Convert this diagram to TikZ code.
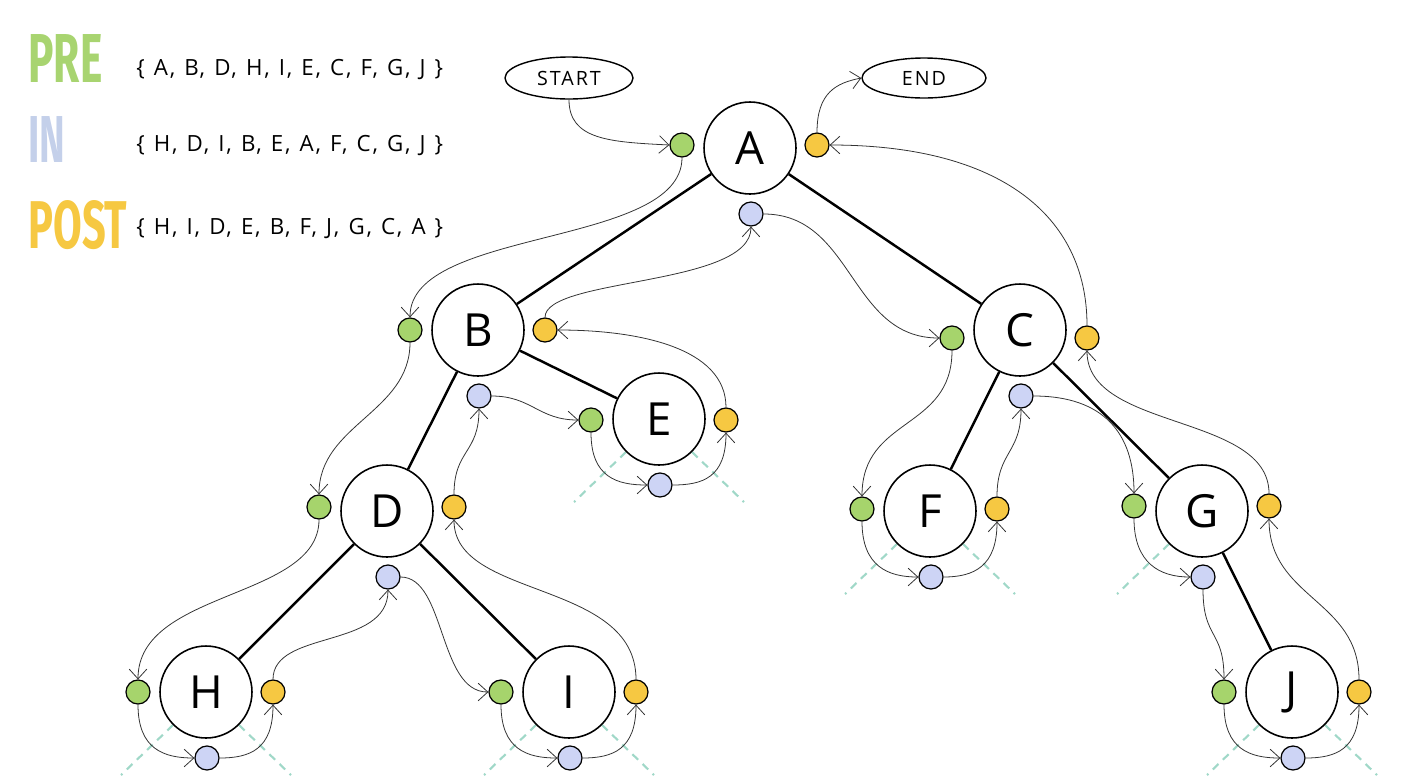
\documentclass[tikz,border=0pt]{standalone}
\usepackage{fontspec}
\setmainfont{Open Sans}
\newfontfamily\headfont{Fira Sans}
\newfontfamily\spacedfont[LetterSpace=10]{Open Sans}
\newfontfamily\setfont[LetterSpace=8,WordSpace=1.2]{Open Sans}
\usetikzlibrary{arrows.meta,shapes.geometric}
\definecolor{gfill}{RGB}{166,212,108}
\definecolor{bfill}{RGB}{205,212,245}
\definecolor{yfill}{RGB}{246,200,66}
\definecolor{precol}{RGB}{168,212,112}
\definecolor{incol}{RGB}{196,208,234}
\definecolor{postcol}{RGB}{246,200,66}
\definecolor{nullcol}{RGB}{160,216,200}
\tikzset{
  tnode/.style={circle,draw=black,line width=0.9pt,fill=white,minimum size=1.84cm,inner sep=0pt,font=\fontsize{26}{28}\selectfont},
  dot/.style={circle,draw=black,line width=0.7pt,minimum size=0.48cm,inner sep=0pt},
  gdot/.style={dot,fill=gfill},
  bdot/.style={dot,fill=bfill},
  ydot/.style={dot,fill=yfill},
  edge/.style={line width=1.4pt,draw=black},
  conn/.style={draw=black!80,line width=0.45pt,-{Straight Barb[length=5.5pt,width=10pt]}},
  nulls/.style={draw=nullcol,line width=1.2pt,dash pattern=on 4.5pt off 3.5pt},
  term/.style={ellipse,draw=black,line width=0.8pt,fill=white,inner sep=0pt,font=\spacedfont\fontsize{11.2}{13}\selectfont},
  settext/.style={anchor=west,inner sep=0pt,font=\setfont\fontsize{12.7}{15}\selectfont},
  head/.style={anchor=south west,inner sep=0pt}
}
\begin{document}
\begin{tikzpicture}[x=0.02cm,y=-0.02cm]
\useasboundingbox (0,0) rectangle (1402,778);
% headings
\node[head,text=precol] (pre) at (28,83) {\resizebox{1.48cm}{0.96cm}{\headfont\bfseries PRE}};
\node[head,text=incol] (in) at (28,163) {\resizebox{0.74cm}{0.92cm}{\headfont\bfseries IN}};
\node[head,text=postcol] (post) at (28,250) {\resizebox{1.98cm}{0.96cm}{\headfont\bfseries POST}};
\node[settext] (preset) at (136,70) {\{ A, B, D, H, I, E, C, F, G, J \}};
\node[settext] (inset) at (136,146) {\{ H, D, I, B, E, A, F, C, G, J \}};
\node[settext] (postset) at (136,229) {\{ H, I, D, E, B, F, J, G, C, A \}};
% terminals
\node[term,minimum width=2.56cm,minimum height=0.84cm] (START) at (569,78) {START};
\node[term,minimum width=2.48cm,minimum height=0.80cm] (END) at (924,78) {END};
% null-child dashed lines
\foreach \n/\x/\y/\l/\r in {E/659/419/1/1,F/930/511/1/1,G/1202/511/1/0,H/206/692/1/1,I/569/692/1/1,J/1292/692/1/1}{
  \ifnum\l=1 \draw[nulls] (\x-33,\y+33) -- ++(-52,50); \fi
  \ifnum\r=1 \draw[nulls] (\x+33,\y+33) -- ++(52,50); \fi
}
% tree nodes
\node[tnode] (A) at (750,148) {A};
\node[tnode] (B) at (478,330) {B};
\node[tnode] (C) at (1020,330) {C};
\node[tnode] (D) at (387,511) {D};
\node[tnode] (E) at (659,419) {E};
\node[tnode] (F) at (930,511) {F};
\node[tnode] (G) at (1202,511) {G};
\node[tnode] (H) at (206,692) {H};
\node[tnode] (I) at (569,692) {I};
\node[tnode] (J) at (1292,692) {J};
% tree edges
\draw[edge] (A) -- (B);
\draw[edge] (A) -- (C);
\draw[edge] (B) -- (D);
\draw[edge] (B) -- (E);
\draw[edge] (C) -- (F);
\draw[edge] (C) -- (G);
\draw[edge] (D) -- (H);
\draw[edge] (D) -- (I);
\draw[edge] (G) -- (J);
% dots
\foreach \n/\x/\y/\dy in {A/750/148/-3,B/478/330/0,C/1020/330/8,D/387/511/-4,E/659/419/1,F/930/511/-2,G/1202/511/-5,H/206/692/0,I/569/692/0,J/1292/692/0}{
  \node[gdot] (\n g) at (\x-68,\y+\dy) {};
  \node[ydot] (\n y) at (\x+67,\y+\dy) {};
  \node[bdot] (\n b) at (\x+1,\y+66) {};
}
% Euler tour connectors
\draw[conn] (START.south) .. controls +(0,40) and +(-60,-3) .. (Ag.west);
\draw[conn] (Ag.south) .. controls +(0,90) and +(0,-90) .. (Bg.north);
\draw[conn] (Bg.south) .. controls +(0,70) and +(0,-70) .. (Dg.north);
\draw[conn] (Dg.south) .. controls +(0,80) and +(0,-90) .. (Hg.north);
\draw[conn] (Hg.south) .. controls +(0,45) and +(-30,0) .. (Hb.west);
\draw[conn] (Hb.east) .. controls +(30,0) and +(0,45) .. (Hy.south);
\draw[conn] (Hy.north) .. controls +(0,-50) and +(0,60) .. (Db.south);
\draw[conn] (Db.east) .. controls +(45,0) and +(-50,0) .. (Ig.west);
\draw[conn] (Ig.south) .. controls +(0,45) and +(-30,0) .. (Ib.west);
\draw[conn] (Ib.east) .. controls +(30,0) and +(0,45) .. (Iy.south);
\draw[conn] (Iy.north) .. controls +(0,-100) and +(0,80) .. (Dy.south);
\draw[conn] (Dy.north) .. controls +(0,-45) and +(0,45) .. (Bb.south);
\draw[conn] (Bb.east) .. controls +(40,0) and +(-40,0) .. (Eg.west);
\draw[conn] (Eg.south) .. controls +(0,45) and +(-30,0) .. (Eb.west);
\draw[conn] (Eb.east) .. controls +(30,0) and +(0,45) .. (Ey.south);
\draw[conn] (Ey.north) .. controls +(0,-60) and +(80,0) .. (By.east);
\draw[conn] (By.north) .. controls +(0,-40) and +(0,60) .. (Ab.south);
\draw[conn] (Ab.east) .. controls +(90,0) and +(-90,0) .. (Cg.west);
\draw[conn] (Cg.south) .. controls +(0,80) and +(0,-80) .. (Fg.north);
\draw[conn] (Fg.south) .. controls +(0,45) and +(-30,0) .. (Fb.west);
\draw[conn] (Fb.east) .. controls +(30,0) and +(0,45) .. (Fy.south);
\draw[conn] (Fy.north) .. controls +(0,-45) and +(0,45) .. (Cb.south);
\draw[conn] (Cb.east) .. controls +(70,0) and +(0,-60) .. (Gg.north);
\draw[conn] (Gg.south) .. controls +(0,45) and +(-30,0) .. (Gb.west);
\draw[conn] (Gb.south) .. controls +(0,50) and +(0,-50) .. (Jg.north);
\draw[conn] (Jg.south) .. controls +(0,45) and +(-30,0) .. (Jb.west);
\draw[conn] (Jb.east) .. controls +(30,0) and +(0,45) .. (Jy.south);
\draw[conn] (Jy.north) .. controls +(0,-80) and +(0,80) .. (Gy.south);
\draw[conn] (Gy.north) .. controls +(0,-80) and +(0,80) .. (Cy.south);
\draw[conn] (Cy.north) .. controls +(0,-110) and +(170,0) .. (Ay.east);
\draw[conn] (Ay.north) .. controls +(0,-40) and +(-25,5) .. (END.west);
\end{tikzpicture}
\end{document}
